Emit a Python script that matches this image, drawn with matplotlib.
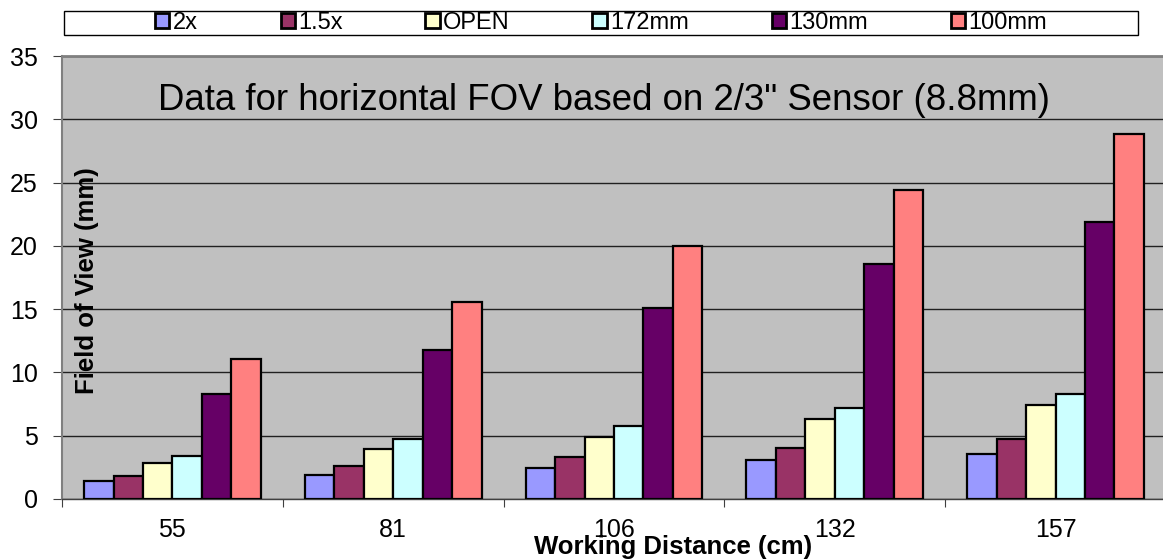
import numpy as np
import matplotlib
matplotlib.use('Agg')
import matplotlib.pyplot as plt
from matplotlib.patches import Rectangle, Patch

plt.rcParams['font.family'] = ['Liberation Sans', 'DejaVu Sans']

distances = ['55', '81', '106', '132', '157']
series = ['2x', '1.5x', 'OPEN', '172mm', '130mm', '100mm']
fov_2x = [1.42, 1.92, 2.45, 3.10, 3.57]
fov_15x = [1.84, 2.60, 3.29, 4.04, 4.75]
fov_open = [2.84, 3.92, 4.92, 6.30, 7.43]
fov_172 = [3.42, 4.71, 5.77, 7.22, 8.32]
fov_130 = [8.32, 11.74, 15.10, 18.56, 21.88]
fov_100 = [11.06, 15.60, 19.98, 24.42, 28.82]
colors = ['#9999FF', '#993366', '#FFFFCC', '#CCFFFF', '#660066', '#FF8080']

values = [fov_2x, fov_15x, fov_open, fov_172, fov_130, fov_100]

fig = plt.figure(figsize=(11.63, 5.6), dpi=100)
W, H = 1163.0, 560.0
# plot area runs past the right edge, like the original
ax = fig.add_axes([62 / W, 1 - 499 / H, 1104 / W, 443 / H])
ax.set_facecolor('#C0C0C0')

x = np.arange(len(distances))
w = 1 / 7.5
for i, (name, vals) in enumerate(zip(series, values)):
    ax.bar(x + (i - 2.5) * w, vals, w, color=colors[i], edgecolor='black',
           linewidth=1.6, label=name, zorder=3)

ax.set_xlim(-0.5, len(distances) - 0.5)
ax.set_ylim(0, 35)
ax.set_yticks(np.arange(0, 36, 5))
ax.yaxis.grid(True, color='#202020', linewidth=1, zorder=1)
ax.set_axisbelow(True)

ax.set_xticks(np.arange(-0.5, len(distances), 1))
ax.set_xticklabels([])
ax.set_xticks(x, minor=True)
ax.set_xticklabels(distances, minor=True)
ax.tick_params(axis='x', which='major', direction='out', length=6, color='#404040')
ax.tick_params(axis='x', which='minor', length=0, pad=14, labelsize=18)
ax.tick_params(axis='y', direction='out', length=6.5, color='#404040', pad=11, labelsize=18)

ax.spines['left'].set_color('#808080')
ax.spines['left'].set_linewidth(1.5)
ax.spines['top'].set_color('#808080')
ax.spines['top'].set_linewidth(2)
ax.spines['bottom'].set_color('#404040')
ax.spines['bottom'].set_linewidth(1)
ax.spines['right'].set_visible(False)

ax.text(0.087, 0.878, 'Data for horizontal FOV based on 2/3" Sensor (8.8mm)',
        transform=ax.transAxes, fontsize=26.4, va='baseline', ha='left', zorder=5)

fig.text(673 / W, 1 - 547 / H, 'Working Distance (cm)', fontsize=18.5,
         fontweight='bold', ha='center', va='center')
fig.text(87 / W, 1 - 281 / H, 'Field of View (mm)', fontsize=18.5,
         fontweight='bold', ha='center', va='center', rotation=90)

# legend box across the top
fig.patches.append(Rectangle((64 / W, 1 - 35 / H), (1138 - 64) / W, 24 / H,
                             transform=fig.transFigure, facecolor='white',
                             edgecolor='black', linewidth=1))
handles = [Patch(facecolor=c, edgecolor='black', linewidth=2) for c in colors]
fig.legend(handles, series, loc='center', bbox_to_anchor=(601 / W, 1 - 23 / H),
           ncol=6, frameon=False, fontsize=17, handlelength=0.6,
           handleheight=0.6, handletextpad=0.15, columnspacing=3.5,
           borderpad=0, borderaxespad=0)

fig.savefig('out.png', dpi=100)
